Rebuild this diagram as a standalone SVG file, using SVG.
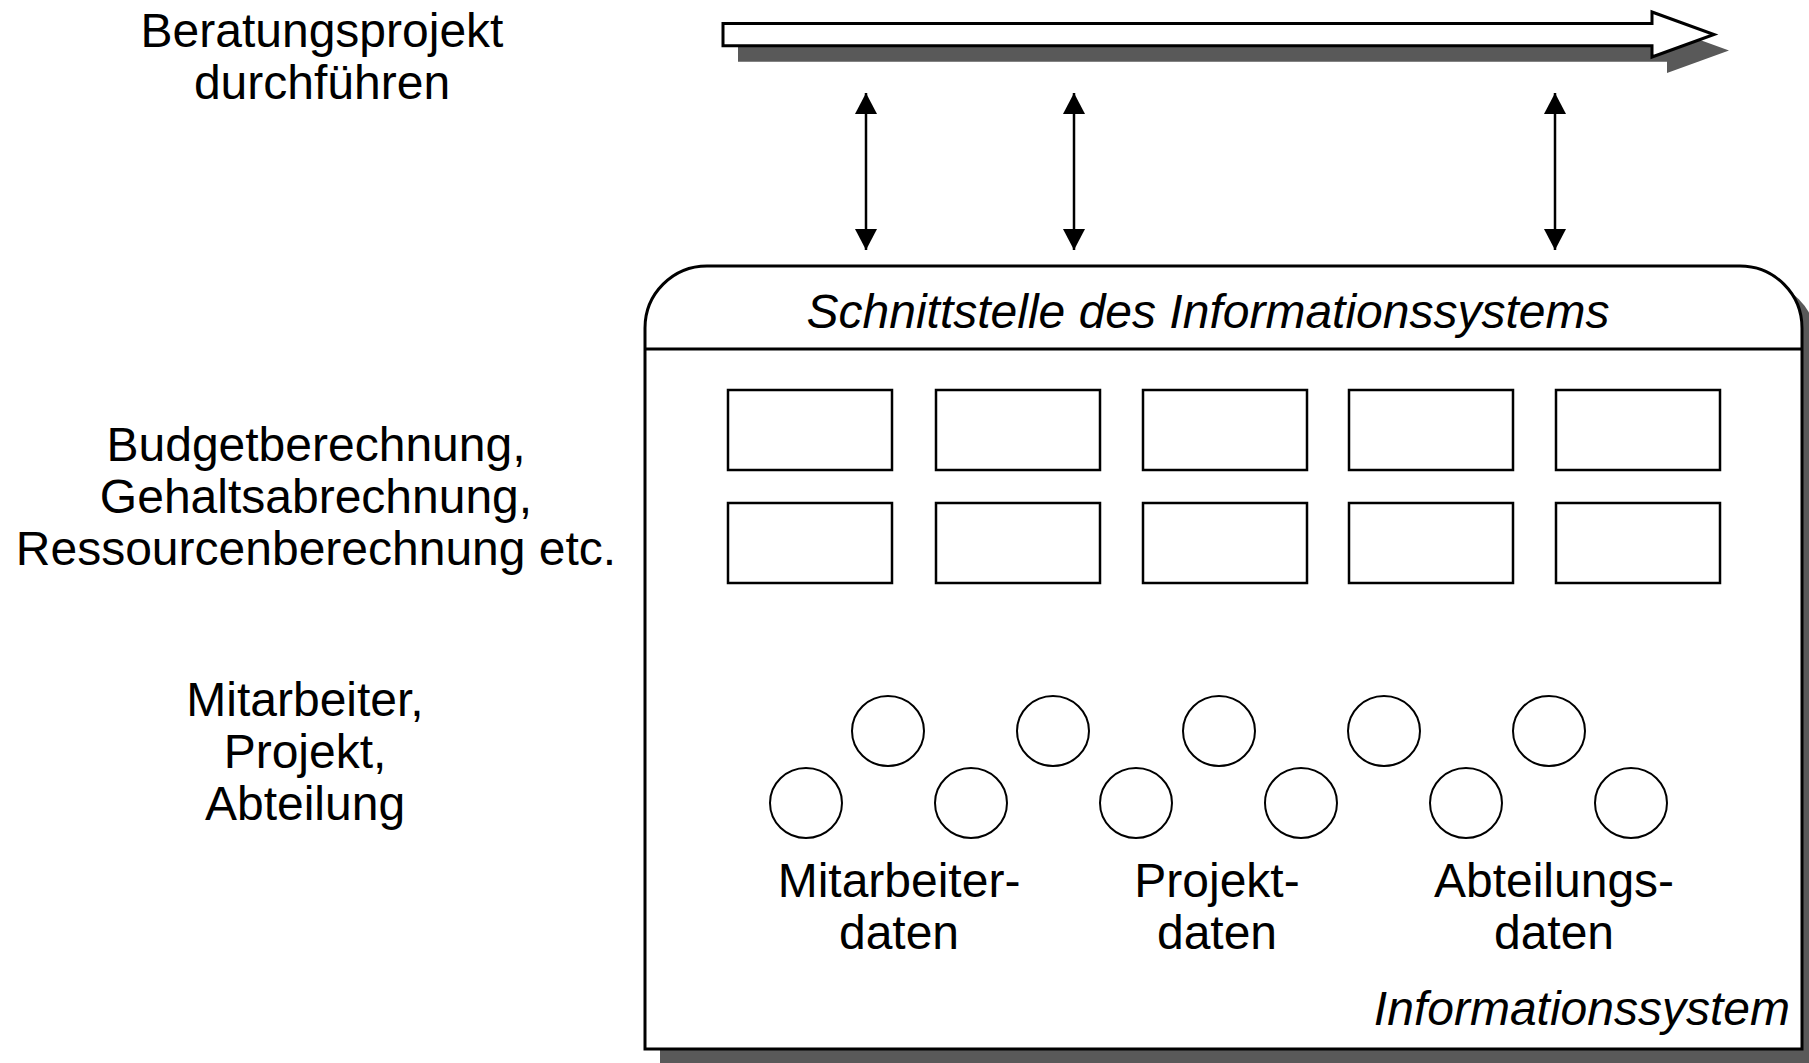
<svg xmlns="http://www.w3.org/2000/svg" width="1809" height="1063" viewBox="0 0 1809 1063">
<style>
text{font-family:"Liberation Sans",Arial,sans-serif;font-size:48px;fill:#000}
.c{text-anchor:middle}
.i{font-style:italic}
.sh{fill:#595959;stroke:none}
.box{fill:#fff;stroke:#000;stroke-width:3}
.fn{fill:#fff;stroke:#000;stroke-width:2.5}
.el{fill:#fff;stroke:#000;stroke-width:2}
.con{stroke:#000;stroke-width:2.5;fill:none}
</style>
<defs>
<marker id="ah" viewBox="0 0 21 22" refX="21" refY="11" markerWidth="21" markerHeight="22" markerUnits="userSpaceOnUse" orient="auto-start-reverse">
<path d="M0,0 L21,11 L0,22 Z" fill="#000"/>
</marker>
</defs>
<g id="process">
<path class="sh" d="M738,39.5 H1667 V28 L1729,50.5 L1667,73 V61.7 H738 Z"/>
<path class="box" d="M723,23.5 H1652 V12 L1714,34.5 L1652,57 V45.7 H723 Z"/>
</g>
<g id="labels-left">
<text class="c" x="322" y="47">Beratungsprojekt</text>
<text class="c" x="322" y="99">durchführen</text>
<text class="c" x="316" y="461">Budgetberechnung,</text>
<text class="c" x="316" y="513">Gehaltsabrechnung,</text>
<text class="c" x="316" y="565">Ressourcenberechnung etc.</text>
<text class="c" x="305" y="716">Mitarbeiter,</text>
<text class="c" x="305" y="768">Projekt,</text>
<text class="c" x="305" y="820">Abteilung</text>
</g>
<g id="infosystem">
<path class="sh" d="M660,343 A62,62 0 0 1 722,281 H1755 A62,62 0 0 1 1817,343 V1064 H660 Z"/>
<path class="box" d="M645,328 A62,62 0 0 1 707,266 H1740 A62,62 0 0 1 1802,328 V1049 H645 Z"/>
<line x1="645" y1="349" x2="1802" y2="349" stroke="#000" stroke-width="3"/>
<text class="c i" x="1208" y="328">Schnittstelle des Informationssystems</text>
<text class="i" x="1790" y="1025" text-anchor="end">Informationssystem</text>
</g>
<g id="functions">
<rect id="f1" class="fn" x="728" y="390" width="164" height="80"/>
<rect id="f2" class="fn" x="936" y="390" width="164" height="80"/>
<rect id="f3" class="fn" x="1143" y="390" width="164" height="80"/>
<rect id="f4" class="fn" x="1349" y="390" width="164" height="80"/>
<rect id="f5" class="fn" x="1556" y="390" width="164" height="80"/>
<rect id="f6" class="fn" x="728" y="503" width="164" height="80"/>
<rect id="f7" class="fn" x="936" y="503" width="164" height="80"/>
<rect id="f8" class="fn" x="1143" y="503" width="164" height="80"/>
<rect id="f9" class="fn" x="1349" y="503" width="164" height="80"/>
<rect id="f10" class="fn" x="1556" y="503" width="164" height="80"/>
</g>
<g id="data">
<ellipse class="el" cx="888" cy="731" rx="36" ry="35"/>
<ellipse class="el" cx="1053" cy="731" rx="36" ry="35"/>
<ellipse class="el" cx="1219" cy="731" rx="36" ry="35"/>
<ellipse class="el" cx="1384" cy="731" rx="36" ry="35"/>
<ellipse class="el" cx="1549" cy="731" rx="36" ry="35"/>
<ellipse class="el" cx="806" cy="803" rx="36" ry="35"/>
<ellipse class="el" cx="971" cy="803" rx="36" ry="35"/>
<ellipse class="el" cx="1136" cy="803" rx="36" ry="35"/>
<ellipse class="el" cx="1301" cy="803" rx="36" ry="35"/>
<ellipse class="el" cx="1466" cy="803" rx="36" ry="35"/>
<ellipse class="el" cx="1631" cy="803" rx="36" ry="35"/>
<text class="c" x="899" y="897">Mitarbeiter-</text>
<text class="c" x="899" y="949">daten</text>
<text class="c" x="1217" y="897">Projekt-</text>
<text class="c" x="1217" y="949">daten</text>
<text class="c" x="1554" y="897">Abteilungs-</text>
<text class="c" x="1554" y="949">daten</text>
</g>
<g id="connectors">
<line class="con" x1="866" y1="93" x2="866" y2="250" marker-start="url(#ah)" marker-end="url(#ah)"/>
<line class="con" x1="1074" y1="93" x2="1074" y2="250" marker-start="url(#ah)" marker-end="url(#ah)"/>
<line class="con" x1="1555" y1="93" x2="1555" y2="250" marker-start="url(#ah)" marker-end="url(#ah)"/>
</g>
</svg>
